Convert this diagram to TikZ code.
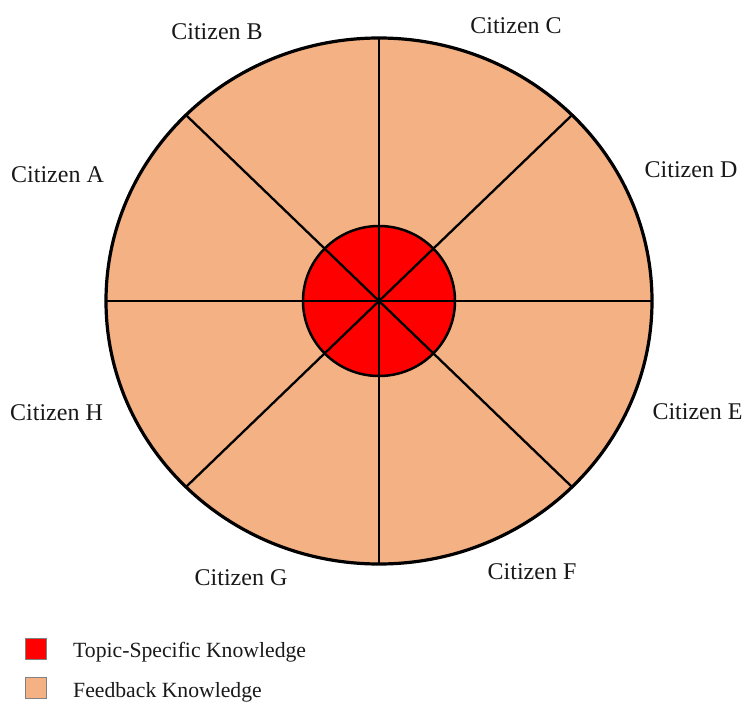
\documentclass[tikz,border=0pt]{standalone}
\usepackage{fontspec}
\setmainfont{Liberation Serif}
\definecolor{fbk}{RGB}{244,177,131}
\definecolor{tsk}{RGB}{255,0,0}
\begin{document}
\begin{tikzpicture}[x=1pt,y=-1pt,
  lbl/.style={font=\fontsize{24}{28}\selectfont, anchor=base, inner sep=0pt, text=black!90},
  leg/.style={font=\fontsize{21.7}{26}\selectfont, anchor=base west, inner sep=0pt, text=black!90},
  spoke/.style={line width=2.3pt, black},
  swatch/.style={draw=gray, line width=0.8pt, minimum size=21pt, inner sep=0pt}]
\useasboundingbox (0,0) rectangle (745,704);
\coordinate (c) at (379,301);
\fill[fbk] (c) ellipse [x radius=273pt, y radius=263pt];
\fill[tsk] (c) ellipse [x radius=76pt, y radius=75pt];
\foreach \a in {0,45,...,315}
  \draw[spoke] (c) -- ++({273*cos(\a)},{263*sin(\a)});
\draw[line width=2.5pt, black] (c) ellipse [x radius=76pt, y radius=75pt];
\draw[line width=3.2pt, black] (c) ellipse [x radius=273pt, y radius=263pt];
\fill (c) circle [radius=3pt];
% labels
\node[lbl] (cA) at (57.5,182) {Citizen A};
\node[lbl] (cB) at (217,39) {Citizen B};
\node[lbl] (cC) at (516,33) {Citizen C};
\node[lbl] (cD) at (691,177) {Citizen D};
\node[lbl] (cE) at (697.5,419) {Citizen E};
\node[lbl] (cF) at (532,579) {Citizen F};
\node[lbl] (cG) at (241,585) {Citizen G};
\node[lbl] (cH) at (56.5,420) {Citizen H};
% legend
\node[swatch, fill=tsk] (s1) at (35.5,649) {};
\node[swatch, fill=fbk] (s2) at (35.5,688) {};
\node[leg] (l1) at (73,657) {Topic-Specific Knowledge};
\node[leg] (l2) at (73,697) {Feedback Knowledge};
\end{tikzpicture}
\end{document}
